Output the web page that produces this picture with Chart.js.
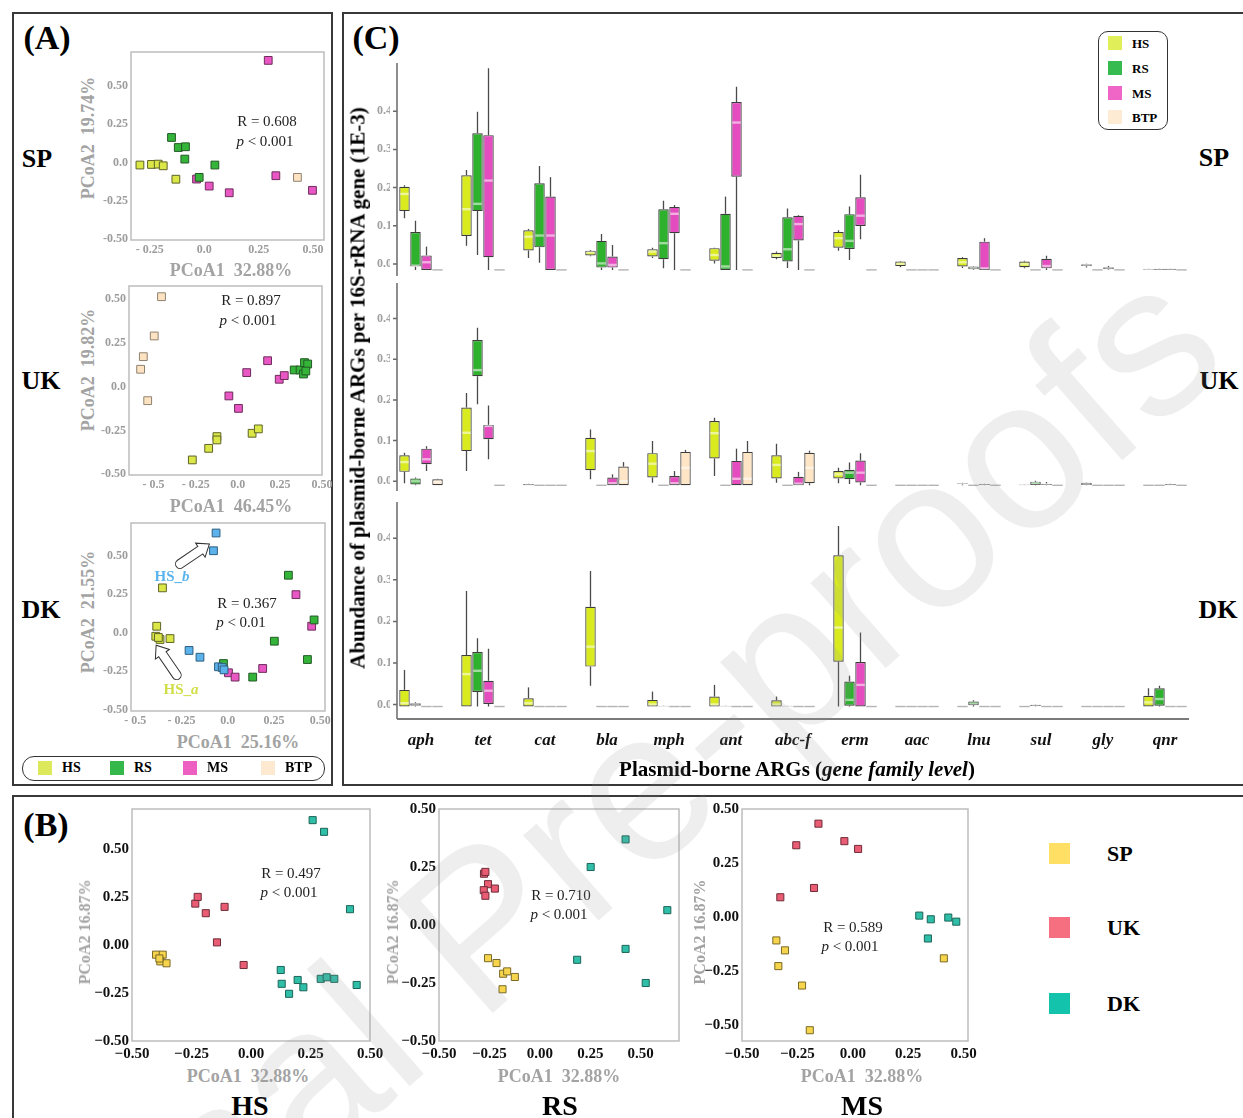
<!DOCTYPE html>
<html><head><meta charset="utf-8">
<script src="https://cdn.jsdelivr.net/npm/chart.js@4.4.1/dist/chart.umd.min.js"></script>
<style>
body{margin:0;background:#fff;}
#page{position:relative;width:1243px;height:1118px;overflow:hidden;font-family:"Liberation Serif","Times New Roman",serif;}
.t{position:absolute;white-space:pre;line-height:1;}
canvas{position:absolute;}
</style></head><body><div id="page"></div>
<script>
// ---------- panel A : PCoA per country (x, y) ----------
const spHS  = [[-0.295,-0.017],[-0.242,-0.013],[-0.211,-0.011],[-0.188,-0.022],[-0.13,-0.11]];
const spRS  = [[-0.15,0.164],[-0.119,0.098],[-0.086,0.103],[-0.089,0.022],[-0.023,-0.098],[0.049,-0.017]];
const spMS  = [[0.294,0.67],[-0.035,-0.109],[0.023,-0.155],[0.115,-0.199],[0.329,-0.087],[0.497,-0.183]];
const spBTP = [[0.428,-0.098]];

const ukHS  = [[-0.27,-0.418],[-0.173,-0.352],[-0.124,-0.285],[-0.124,-0.304],[0.085,-0.266],[0.122,-0.241]];
const ukRS  = [[0.335,0.095],[0.37,0.095],[0.396,0.137],[0.415,0.129],[0.39,0.072],[0.404,0.089]];
const ukMS  = [[-0.053,-0.053],[0.004,-0.124],[0.053,0.08],[0.177,0.148],[0.246,0.042],[0.276,0.063]];
const ukBTP = [[-0.453,0.513],[-0.496,0.289],[-0.561,0.171],[-0.577,0.099],[-0.535,-0.08]];

const dkHSa = [[-0.353,0.292],[-0.384,0.043],[-0.389,-0.022],[-0.366,-0.043],[-0.312,-0.037],[-0.375,-0.03]];
const dkHSb = [[-0.063,0.648],[-0.077,0.533],[-0.209,-0.114],[-0.15,-0.158],[-0.05,-0.22],[-0.03,-0.225],[-0.02,-0.24]];
const dkRS  = [[0.328,0.374],[0.467,0.084],[0.252,-0.054],[0.431,-0.173],[-0.023,-0.199],[0.135,-0.287]];
const dkMS  = [[0.369,0.248],[0.454,0.043],[0.004,-0.259],[0.04,-0.287],[0.189,-0.231]];
// arrows [tailX, tailY, headX, headY]
const dkArrows = [[-0.258,0.447,-0.099,0.577],[-0.276,-0.274,-0.387,-0.08]];

// ---------- panel C : boxes [min, q1, median, q3, max], null = all zero ----------
const genes = ['aph','tet','cat','bla','mph','ant','abc-f','erm','aac','lnu','sul','gly','qnr'];

const spBoxHS = [[0.135,0.154,0.199,0.218,0.222],[0.063,0.089,0.159,0.248,0.262],[0.031,0.051,0.087,0.104,0.107],[0.036,0.038,0.046,0.05,0.052],[0.031,0.035,0.048,0.054,0.058],[0.017,0.024,0.039,0.057,0.058],[0.028,0.031,0.037,0.045,0.048],[0.05,0.058,0.083,0.099,0.104],[0.007,0.01,0.016,0.022,0.023],[0.005,0.009,0.02,0.031,0.033],[0.004,0.007,0.015,0.022,0.024],[0.006,0.01,0.012,0.015,0.016],[0,0,0.001,0.002,0.003]];
const spBoxRS = [[0,0.009,0.011,0.099,0.129],[0.039,0.154,0.173,0.358,0.414],[0.019,0.059,0.09,0.227,0.272],[0,0.006,0.017,0.076,0.094],[0.004,0.028,0.07,0.159,0.181],[0,0,0.009,0.147,0.192],[0.005,0.022,0.054,0.138,0.161],[0.026,0.055,0.076,0.146,0.166],null,[0,0.002,0.005,0.009,0.01],null,null,[0,0,0.002,0.003,0.004]];
const spBoxMS = [[0,0,0.02,0.038,0.061],[0,0.033,0.234,0.353,0.528],[0,0,0.09,0.192,0.243],[0,0.006,0.013,0.035,0.065],[0,0.096,0.147,0.165,0.17],[0,0.244,0.386,0.44,0.48],[0,0.077,0.12,0.142,0.144],[0.08,0.115,0.142,0.19,0.249],null,[0,0,0.004,0.074,0.083],[0,0.004,0.01,0.029,0.037],[0,0.002,0.004,0.007,0.01],[0,0,0.002,0.003,0.004]];
const spBoxBTP = [null,null,null,null,null,null,null,null,null,null,null,null,null];

const ukBoxHS = [[0.005,0.033,0.057,0.074,0.08],[0.035,0.084,0.129,0.191,0.227],[0,0,0.002,0.003,0.004],[0.015,0.037,0.084,0.117,0.137],[0.006,0.019,0.053,0.079,0.109],[0.023,0.066,0.128,0.158,0.166],[0.006,0.017,0.05,0.074,0.102],[0.005,0.017,0.027,0.035,0.043],null,[0,0.003,0.004,0.005,0.006],[0,0,0.001,0.002,0.003],[0,0.001,0.003,0.006,0.007],null];
const ukBoxRS = [[0,0.002,0.01,0.017,0.019],[0.199,0.268,0.283,0.357,0.387],null,null,null,null,null,[0.003,0.015,0.031,0.038,0.056],null,null,[0,0.001,0.005,0.009,0.011],null,null];
const ukBoxMS = [[0.035,0.052,0.064,0.09,0.096],[0.064,0.113,0.146,0.148,0.196],null,[0,0,0.005,0.019,0.027],[0,0,0.005,0.023,0.035],[0,0,0.016,0.06,0.09],[0,0,0.004,0.021,0.033],[0,0.007,0.031,0.061,0.079],null,[0,0.001,0.002,0.003,0.004],[0,0.001,0.003,0.004,0.008],null,[0,0,0.002,0.003,0.004]];
const ukBoxBTP = [[0,0,0.008,0.015,0.016],null,null,[0,0,0.01,0.046,0.057],[0,0,0.043,0.082,0.087],[0,0,0.016,0.082,0.109],[0,0.005,0.043,0.08,0.085],null,null,null,null,null,null];

const dkBoxHS = [[0,0,0.008,0.04,0.088],[0,0,0.078,0.124,0.278],[0,0,0.008,0.02,0.046],[0.05,0.096,0.144,0.24,0.326],[0,0,0.005,0.016,0.036],[0,0,0.005,0.024,0.052],[0,0,0.005,0.015,0.024],[0,0.108,0.19,0.364,0.434],null,null,null,null,[0,0,0.01,0.026,0.044]];
const dkBoxRS = [[0,0.002,0.005,0.008,0.01],[0,0.035,0.086,0.131,0.164],null,null,[0,0,0.001,0.002,0.003],[0,0,0.001,0.002,0.003],[0,0,0.001,0.002,0.003],[0,0.002,0.016,0.06,0.074],null,[0,0.003,0.007,0.012,0.015],[0,0.001,0.002,0.004,0.005],null,[0,0.002,0.018,0.044,0.05]];
const dkBoxMS = [null,[0,0.006,0.038,0.062,0.139],null,null,null,null,null,[0,0,0.052,0.107,0.178],null,null,null,null,null];
const dkBoxBTP = [null,null,null,null,null,null,null,null,null,null,null,null,null];

// ---------- panel B : PCoA per sample type ----------
const bHS_SP = [[-0.399,-0.05],[-0.371,-0.05],[-0.381,-0.085],[-0.355,-0.095],[-0.385,-0.07]];
const bHS_UK = [[-0.234,0.216],[-0.224,0.251],[-0.19,0.166],[-0.111,0.199],[-0.143,0.014],[-0.031,-0.104]];
const bHS_DK = [[0.259,0.651],[0.307,0.59],[0.416,0.187],[0.125,-0.13],[0.129,-0.202],[0.16,-0.254],[0.196,-0.182],[0.22,-0.22],[0.293,-0.176],[0.318,-0.168],[0.35,-0.176],[0.444,-0.208]];
const bRS_SP = [[-0.257,-0.143],[-0.215,-0.164],[-0.182,-0.21],[-0.162,-0.2],[-0.124,-0.224],[-0.185,-0.277]];
const bRS_UK = [[-0.277,0.221],[-0.27,0.229],[-0.257,0.176],[-0.223,0.157],[-0.278,0.15],[-0.27,0.126]];
const bRS_DK = [[0.425,0.369],[0.252,0.25],[0.632,0.064],[0.185,-0.15],[0.425,-0.103],[0.525,-0.25]];
const bMS_SP = [[-0.345,-0.109],[-0.306,-0.155],[-0.336,-0.228],[-0.229,-0.318],[-0.194,-0.525],[0.411,-0.192]];
const bMS_UK = [[-0.155,0.432],[-0.255,0.332],[-0.038,0.351],[0.024,0.315],[-0.175,0.134],[-0.327,0.091]];
const bMS_DK = [[0.3,0.006],[0.352,-0.011],[0.431,-0.003],[0.467,-0.022],[0.339,-0.1]];

const aXTicksSP = [-0.25,0,0.25,0.5], aXLabelsSP = ['- 0.25','0.0','0.25','0.50'];
const aXTicks = [-0.5,-0.25,0,0.25,0.5], aXLabels = ['- 0.5','- 0.25','0.0','0.25','0.50'];
const aYTicks = [-0.5,-0.25,0,0.25,0.5], aYLabels = ['-0.50','-0.25','0.0','0.25','0.50'];
const bTicks = [-0.5,-0.25,0,0.25,0.5], bLabels = ['\u22120.50','\u22120.25','0.00','0.25','0.50'];
const cYTicks = [0,0.1,0.2,0.3,0.4];

// ---------- helpers ----------
const serif = '"Liberation Serif","Times New Roman",serif';
const page = document.getElementById('page');

function text(html, cx, cy, css, rot) {
  const d = document.createElement('div');
  d.className = 't';
  d.innerHTML = html;
  d.style.cssText += css || '';
  d.style.left = cx + 'px'; d.style.top = cy + 'px';
  d.style.transform = 'translate(-50%,-50%)' + (rot ? ' rotate(' + rot + 'deg)' : '');
  page.appendChild(d);
  return d;
}
function box(l, t, w, h, css) {
  const d = document.createElement('div');
  d.style.cssText = 'position:absolute;left:' + l + 'px;top:' + t + 'px;width:' + w + 'px;height:' + h + 'px;box-sizing:border-box;' + (css || '');
  page.appendChild(d);
  return d;
}
function addCanvas(left, top, w, h) {
  const c = document.createElement('canvas');
  c.width = w; c.height = h;
  c.style.left = left + 'px'; c.style.top = top + 'px';
  c.style.width = w + 'px'; c.style.height = h + 'px';
  page.appendChild(c);
  return c.getContext('2d');
}
function axis(min, max, vals, labels, font, color, size, horiz, pad) {
  return {
    type: 'linear', min: min, max: max,
    grid: { display: false, drawTicks: false },
    border: { display: false },
    afterBuildTicks: s => { s.ticks = vals.map(v => ({ value: v })); },
    afterFit: s => {
      if (horiz) s.height = size; else s.width = size;
      s.paddingLeft = s.paddingRight = s.paddingTop = s.paddingBottom = 0;
    },
    ticks: { autoSkip: false, maxRotation: 0, padding: pad, font: font, color: color,
      callback: v => labels[vals.indexOf(v)] }
  };
}
const framePlugin = {
  id: 'frame',
  afterDraw(chart) {
    const a = chart.chartArea, ctx = chart.ctx;
    ctx.save(); ctx.strokeStyle = '#bdbdbd'; ctx.lineWidth = 1.5;
    ctx.strokeRect(a.left, a.top, a.right - a.left, a.bottom - a.top);
    ctx.restore();
  }
};
function blockArrow(ctx, x1, y1, x2, y2) {
  const ang = Math.atan2(y2 - y1, x2 - x1), len = Math.hypot(x2 - x1, y2 - y1);
  const sw = 4.5, hw = 8.5, hl = 11;
  ctx.save(); ctx.translate(x1, y1); ctx.rotate(ang);
  ctx.beginPath();
  ctx.moveTo(0, -sw); ctx.lineTo(len - hl, -sw); ctx.lineTo(len - hl, -hw); ctx.lineTo(len, 0);
  ctx.lineTo(len - hl, hw); ctx.lineTo(len - hl, sw); ctx.lineTo(0, sw);
  ctx.arc(0, 0, sw, Math.PI / 2, -Math.PI / 2);
  ctx.closePath();
  ctx.fillStyle = '#fff'; ctx.fill(); ctx.strokeStyle = '#333'; ctx.lineWidth = 1; ctx.stroke();
  ctx.restore();
}
const arrowPlugin = {
  id: 'arrows',
  afterDatasetsDraw(chart) {
    const xs = chart.scales.x, ys = chart.scales.y;
    dkArrows.forEach(a => blockArrow(chart.ctx, xs.getPixelForValue(a[0]), ys.getPixelForValue(a[1]),
      xs.getPixelForValue(a[2]), ys.getPixelForValue(a[3])));
  }
};

function scatterPanel(c) {
  const padT = 8, padR = 20;
  const w = Math.round(c.pr - c.pl + c.yW + padR);
  const h = Math.round(c.pb - c.pt + padT + c.xH);
  const ctx = addCanvas(c.pl - c.yW, c.pt - padT, w, h);
  return new Chart(ctx, {
    type: 'scatter',
    data: { datasets: c.sets.map(s => ({
      data: s[0].map(p => ({ x: p[0], y: p[1] })),
      pointStyle: 'rect', pointRadius: c.r, backgroundColor: s[1], borderColor: s[2], borderWidth: 1, clip: false
    })) },
    options: {
      responsive: false, animation: false, events: [],
      layout: { padding: { top: padT, right: padR, left: 0, bottom: 0 } },
      plugins: { legend: { display: false }, tooltip: { enabled: false } },
      scales: {
        x: axis(c.xMin, c.xMax, c.xTicks, c.xLabels, c.font, c.color, c.xH, true, c.xPad),
        y: axis(c.yMin, c.yMax, c.yTicks, c.yLabels, c.font, c.color, c.yW, false, c.yPad)
      }
    },
    plugins: [framePlugin].concat(c.extra || [])
  });
}

// ---------- colours ----------
const cA = { HS: ['#dbe647', '#5f6428'], RS: ['#35b43a', '#235a25'], MS: ['#e857c3', '#6e2d5c'], BTP: ['#fde3c2', '#8f8270'], HSb: ['#5cb2ea', '#2f5f80'] };
const boxFill = ['#d9eb1f', '#2eb22e', '#e54cbf', '#fde5c5'];
const cB = { SP: ['#f6d44b', '#7a6a28'], UK: ['#e95c74', '#6e2c38'], DK: ['#2fbea7', '#1c6458'] };

// ---------- frames ----------
box(12, 12, 321, 774, 'border:2px solid #383838;');
box(342, 12, 920, 774, 'border:2px solid #383838;');
box(12, 795, 1250, 340, 'border:2px solid #383838;');

// ---------- panel A charts ----------
const aFont = { family: serif, size: 12, weight: 'bold' };
const aCol = '#9c9c9c';
scatterPanel({ pl: 131, pt: 51.7, pr: 324.3, pb: 240, yW: 31, xH: 16, xPad: 3, yPad: 3, r: 5.5,
  xMin: -0.336, xMax: 0.55, yMin: -0.509, yMax: 0.725, xTicks: aXTicksSP, xLabels: aXLabelsSP, yTicks: aYTicks, yLabels: aYLabels,
  font: aFont, color: aCol,
  sets: [[spHS].concat(cA.HS), [spRS].concat(cA.RS), [spMS].concat(cA.MS), [spBTP].concat(cA.BTP)] });
scatterPanel({ pl: 129, pt: 286, pr: 322.3, pb: 475, yW: 31, xH: 16, xPad: 3, yPad: 3, r: 5.5,
  xMin: -0.646, xMax: 0.5, yMin: -0.504, yMax: 0.574, xTicks: aXTicks, xLabels: aXLabels, yTicks: aYTicks, yLabels: aYLabels,
  font: aFont, color: aCol,
  sets: [[ukBTP].concat(cA.BTP), [ukHS].concat(cA.HS), [ukMS].concat(cA.MS), [ukRS].concat(cA.RS)] });
scatterPanel({ pl: 131, pt: 523.3, pr: 325, pb: 711.7, yW: 31, xH: 16, xPad: 3, yPad: 3, r: 5.5,
  xMin: -0.523, xMax: 0.526, yMin: -0.507, yMax: 0.713, xTicks: aXTicks, xLabels: aXLabels, yTicks: aYTicks, yLabels: aYLabels,
  font: aFont, color: aCol,
  sets: [[dkHSa].concat(cA.HS), [dkHSb].concat(cA.HSb), [dkRS].concat(cA.RS), [dkMS].concat(cA.MS)],
  extra: [arrowPlugin] });

// ---------- panel C charts ----------
function boxPlugin(sets, lo, xLine) {
  function geo(chart) {
    const xs = chart.scales.x, cat = xs.width / genes.length, grp = cat * 0.71, slot = grp / 4;
    return { xs: xs, ys: chart.scales.y, grp: grp, slot: slot, bw: slot * 0.95 };
  }
  function cx(g, j, i) { return g.xs.getPixelForValue(j) - g.grp / 2 + g.slot * (i + 0.5); }
  return {
    id: 'boxes',
    beforeDatasetsDraw(chart) {
      const g = geo(chart), ctx = chart.ctx;
      ctx.save(); ctx.strokeStyle = '#4a4a4a'; ctx.lineWidth = 1.3;
      sets.forEach((arr, i) => arr.forEach((b, j) => {
        if (!b) return;
        const x = cx(g, j, i);
        ctx.beginPath();
        ctx.moveTo(x, g.ys.getPixelForValue(b[0])); ctx.lineTo(x, g.ys.getPixelForValue(b[1]));
        ctx.moveTo(x, g.ys.getPixelForValue(b[3])); ctx.lineTo(x, g.ys.getPixelForValue(b[4]));
        ctx.stroke();
      }));
      ctx.restore();
    },
    afterDatasetsDraw(chart) {
      const g = geo(chart), ctx = chart.ctx, y0 = g.ys.getPixelForValue(0);
      ctx.save();
      sets.forEach((arr, i) => arr.forEach((b, j) => {
        const x = cx(g, j, i);
        ctx.beginPath();
        if (!b) {
          ctx.strokeStyle = '#b4b4b4'; ctx.lineWidth = 1.4;
          ctx.moveTo(x - g.bw / 2, y0); ctx.lineTo(x + g.bw / 2, y0);
        } else {
          const ym = g.ys.getPixelForValue(b[2]);
          ctx.strokeStyle = 'rgba(255,255,255,0.55)'; ctx.lineWidth = 2.4;
          ctx.moveTo(x - g.bw / 2 + 1, ym); ctx.lineTo(x + g.bw / 2 - 1, ym);
        }
        ctx.stroke();
      }));
      ctx.restore();
    },
    afterDraw(chart) {
      const a = chart.chartArea, ctx = chart.ctx, ys = chart.scales.y, ax = a.left + 7;
      ctx.save(); ctx.strokeStyle = '#6a6a6a'; ctx.lineWidth = 1.5;
      ctx.beginPath(); ctx.moveTo(ax, a.top); ctx.lineTo(ax, a.bottom);
      cYTicks.forEach(v => { const y = ys.getPixelForValue(v) + lo; ctx.moveTo(ax - 4, y); ctx.lineTo(ax, y); });
      ctx.stroke();
      if (xLine) {
        ctx.strokeStyle = '#7a7a7a'; ctx.lineWidth = 2;
        ctx.beginPath(); ctx.moveTo(ax, a.bottom); ctx.lineTo(1189 - 350, a.bottom); ctx.stroke();
      }
      ctx.restore();
    }
  };
}
function boxPanel(c) {
  const yW = 40, padT = 5;
  const h = Math.round(c.pb - c.pt + padT + c.xH);
  const ctx = addCanvas(390 - yW, c.pt - padT, 806 + yW, h);
  return new Chart(ctx, {
    type: 'bar',
    data: { labels: genes, datasets: c.sets.map((arr, i) => ({
      data: arr.map(b => b ? [b[1], b[3]] : null),
      backgroundColor: boxFill[i], borderColor: '#3c3c3c', borderWidth: 1.2, borderSkipped: false,
      categoryPercentage: 0.71, barPercentage: 0.95
    })) },
    options: {
      responsive: false, animation: false, events: [],
      layout: { padding: { top: padT, right: 0, left: 0, bottom: 0 } },
      plugins: { legend: { display: false }, tooltip: { enabled: false } },
      scales: {
        x: {
          display: c.xH > 0,
          grid: { display: false, drawTicks: false }, border: { display: false },
          afterFit: s => { s.height = c.xH; s.paddingLeft = s.paddingRight = 0; },
          ticks: { autoSkip: false, maxRotation: 0, padding: 11, color: '#111',
            font: { family: serif, size: 17, style: 'italic', weight: 'bold' } }
        },
        y: {
          min: c.yMin, max: c.yMax,
          grid: { display: false, drawTicks: false }, border: { display: false },
          afterBuildTicks: s => { s.ticks = cYTicks.map(v => ({ value: v })); },
          afterFit: s => { s.width = yW; s.paddingTop = s.paddingBottom = 0; },
          ticks: { padding: -2, labelOffset: c.lo, color: '#a0a0a0',
            font: { family: serif, size: 12, weight: 'bold' }, callback: v => v.toFixed(1) }
        }
      }
    },
    plugins: [boxPlugin(c.sets, c.lo, c.xH > 0)]
  });
}
boxPanel({ pt: 63, pb: 276, yMin: -0.016, yMax: 0.542, xH: 0, lo: -6, sets: [spBoxHS, spBoxRS, spBoxMS, spBoxBTP] });
boxPanel({ pt: 283.3, pb: 491.7, yMin: -0.014, yMax: 0.497, xH: 0, lo: -4, sets: [ukBoxHS, ukBoxRS, ukBoxMS, ukBoxBTP] });
boxPanel({ pt: 501.7, pb: 719, yMin: -0.03, yMax: 0.492, xH: 45, lo: -2, sets: [dkBoxHS, dkBoxRS, dkBoxMS, dkBoxBTP] });

// ---------- panel B charts ----------
const bFont = { family: serif, size: 15, weight: 'bold' };
scatterPanel({ pl: 131.7, pt: 809.3, pr: 370, pb: 1041.7, yW: 50, xH: 22, xPad: 4, yPad: 3, r: 5,
  xMin: -0.5, xMax: 0.5, yMin: -0.5, yMax: 0.709, xTicks: bTicks, xLabels: bLabels, yTicks: bTicks, yLabels: bLabels,
  font: bFont, color: '#111',
  sets: [[bHS_SP].concat(cB.SP), [bHS_UK].concat(cB.UK), [bHS_DK].concat(cB.DK)] });
scatterPanel({ pl: 439.3, pt: 809.3, pr: 679, pb: 1041.7, yW: 50, xH: 22, xPad: 4, yPad: 3, r: 5,
  xMin: -0.5, xMax: 0.69, yMin: -0.5, yMax: 0.5, xTicks: bTicks, xLabels: bLabels, yTicks: bTicks, yLabels: bLabels,
  font: bFont, color: '#111',
  sets: [[bRS_SP].concat(cB.SP), [bRS_UK].concat(cB.UK), [bRS_DK].concat(cB.DK)] });
scatterPanel({ pl: 741.7, pt: 809.3, pr: 967.3, pb: 1041.7, yW: 50, xH: 22, xPad: 4, yPad: 3, r: 5,
  xMin: -0.5, xMax: 0.52, yMin: -0.575, yMax: 0.5, xTicks: bTicks, xLabels: bLabels, yTicks: bTicks, yLabels: bLabels,
  font: bFont, color: '#111',
  sets: [[bMS_SP].concat(cB.SP), [bMS_UK].concat(cB.UK), [bMS_DK].concat(cB.DK)] });

// ---------- texts : panel A ----------
const bold = 'font-weight:bold;';
const gray = 'color:#a3a3a3;font-weight:bold;font-size:18px;';
text('(A)', 47, 38, bold + 'font-size:34px;');
text('SP', 37, 159, bold + 'font-size:26px;');
text('UK', 41, 381, bold + 'font-size:26px;');
text('DK', 41, 610, bold + 'font-size:26px;');
text('PCoA1  32.88%', 231, 270, gray);
text('PCoA1  46.45%', 231, 506, gray);
text('PCoA1  25.16%', 238, 742, gray);
text('PCoA2  19.74%', 88, 138, gray, -90);
text('PCoA2  19.82%', 88, 370, gray, -90);
text('PCoA2  21.55%', 88, 612, gray, -90);
const stat = 'font-size:15px;color:#222;';
text('R = 0.608', 267, 121, stat); text('<i>p</i> &lt; 0.001', 265, 141, stat);
text('R = 0.897', 251, 300, stat); text('<i>p</i> &lt; 0.001', 248, 320, stat);
text('R = 0.367', 247, 603, stat); text('<i>p</i> &lt; 0.01', 241, 622, stat);
text('HS_<i>b</i>', 172, 576, bold + 'font-size:15px;color:#5ab4ee;');
text('HS_<i>a</i>', 181, 689, bold + 'font-size:15px;color:#d2de45;');
box(22, 756, 303, 25, 'border:1.2px solid #333;border-radius:12px;');
[['HS', '#dde95a', 38], ['RS', '#35b84a', 110], ['MS', '#ee5fc2', 183], ['BTP', '#fde8d0', 261]].forEach(e => {
  box(e[2], 761, 14, 14, 'background:' + e[1] + ';');
  const d = text(e[0], 0, 768, bold + 'font-size:14px;');
  d.style.transform = 'translate(0,-50%)'; d.style.left = (e[2] + 24) + 'px';
});

// ---------- texts : panel C ----------
text('(C)', 376, 38, bold + 'font-size:34px;');
text('Abundance of plasmid-borne ARGs per 16S-rRNA gene (1E-3)', 358, 388, bold + 'font-size:21px;', -90);
text('Plasmid-borne ARGs (<i>gene family level</i>)', 797, 769, bold + 'font-size:21px;');
text('SP', 1214, 158, bold + 'font-size:26px;');
text('UK', 1219, 381, bold + 'font-size:26px;');
text('DK', 1218, 610, bold + 'font-size:26px;');
box(1098, 31, 70, 99, 'border:1.2px solid #333;border-radius:10px;background:#fff;');
[['HS', '#e0ee5a', 43], ['RS', '#35bb4f', 68], ['MS', '#f066c6', 93], ['BTP', '#fdebd3', 117]].forEach(e => {
  box(1108, e[2] - 7, 14, 14, 'background:' + e[1] + ';');
  const d = text(e[0], 0, e[2], bold + 'font-size:13px;');
  d.style.transform = 'translate(0,-50%)'; d.style.left = '1132px';
});

// ---------- texts : panel B ----------
text('(B)', 46, 825, bold + 'font-size:34px;');
text('R = 0.497', 291, 873, stat); text('<i>p</i> &lt; 0.001', 289, 892, stat);
text('R = 0.710', 561, 895, stat); text('<i>p</i> &lt; 0.001', 559, 914, stat);
text('R = 0.589', 853, 927, stat); text('<i>p</i> &lt; 0.001', 850, 946, stat);
[[248, 85, 250, 'HS'], [559, 393, 560, 'RS'], [862, 700, 862, 'MS']].forEach(e => {
  text('PCoA1  32.88%', e[0], 1076, gray);
  text('PCoA2 16.87%', e[1], 932, gray + 'font-size:16px;', -90);
  text(e[3], e[2], 1106, bold + 'font-size:28px;');
});
[['SP', '#ffe064', 854], ['UK', '#f66f80', 928], ['DK', '#14c3ab', 1004]].forEach(e => {
  box(1049, e[2] - 11, 21, 21, 'background:' + e[1] + ';');
  const d = text(e[0], 0, e[2], bold + 'font-size:22px;');
  d.style.transform = 'translate(0,-50%)'; d.style.left = '1107px';
});

// watermark
text('Journal Pre-proofs', 520, 890, 'font-family:"Liberation Sans",Arial,sans-serif;font-size:215px;color:rgba(150,150,150,0.16);pointer-events:none;', -41.3);
</script></body></html>
